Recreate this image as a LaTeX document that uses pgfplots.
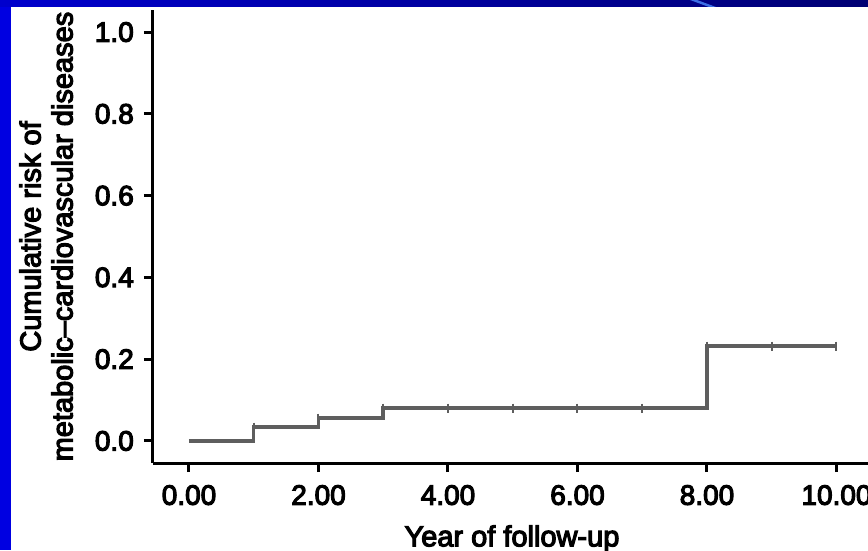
\documentclass[border=0pt]{standalone}
\usepackage{fontspec}
\setmainfont{Liberation Sans}
\newfontfamily\chartfont{Liberation Sans}[Ligatures=TeX, FakeBold=4]
\usepackage{pgfplots}
\pgfplotsset{compat=1.18}
\definecolor{curve}{HTML}{5E5E5E}
\definecolor{slideblue}{RGB}{0,0,225}
\definecolor{barleft}{RGB}{0,0,205}
\definecolor{barright}{RGB}{0,0,115}
\definecolor{streak}{RGB}{60,110,230}
\begin{document}
\begin{tikzpicture}
\useasboundingbox (0,0) rectangle (868pt,550pt);
\clip (0,0) rectangle (868pt,550pt);
\fill[white] (0,0) rectangle (868pt,550pt);
\begin{axis}[
  at={(153pt,87pt)}, anchor=south west,
  width=718pt, height=453pt, scale only axis,
  xmin=-0.556, xmax=10.533, ymin=-0.054, ymax=1.054,
  axis x line*=bottom, axis y line*=left,
  axis line style={-, line width=3pt, black},
  every outer x axis line/.append style={-},
  every outer y axis line/.append style={-},
  tick align=outside, major tick length=9pt,
  every tick/.style={black, line width=3pt},
  xtick={0,2,4,6,8,10}, ytick={0,0.2,0.4,0.6,0.8,1.0},
  minor tick num=0,
  /pgf/number format/assume math mode=true,
  tick label style={font=\chartfont\fontsize{28}{30}\selectfont, inner sep=0pt},
  xticklabel style={anchor=north, yshift=-13pt, /pgf/number format/.cd, fixed, fixed zerofill, precision=2},
  yticklabel style={anchor=east, xshift=-10pt, /pgf/number format/.cd, fixed, fixed zerofill, precision=1},
  xlabel={Year of follow-up},
  xlabel style={at={(axis description cs:0.5,-0.184)}, anchor=base, inner sep=0pt, font=\chartfont\fontsize{29}{32}\selectfont},
  ylabel={Cumulative risk of\\metabolic–cardiovascular diseases},
  ylabel style={at={(axis description cs:-0.1114,0.5)}, anchor=south, inner sep=0pt, align=center, font=\chartfont\fontsize{29}{32}\selectfont},
]
\addplot[const plot, curve, line width=3.5pt] coordinates {
  (0,0) (1,0.034) (2,0.056) (3,0.080) (8,0.232) (10,0.232)
};
\addplot[only marks, mark=|, mark size=4.5pt, curve, mark options={line width=2pt}] coordinates {
  (1,0.034) (2,0.056) (3,0.080) (4,0.080) (5,0.080) (6,0.080) (7,0.080) (8,0.232) (9,0.232) (10,0.232)
};
\end{axis}
\fill[slideblue] (0,0) rectangle (11pt,550pt);
\shade[left color=barleft, right color=barright] (0,543pt) rectangle (868pt,550pt);
\fill[streak] (690pt,550pt) -- (697pt,550pt) -- (716pt,543pt) -- (709pt,543pt) -- cycle;
\end{tikzpicture}
\end{document}
